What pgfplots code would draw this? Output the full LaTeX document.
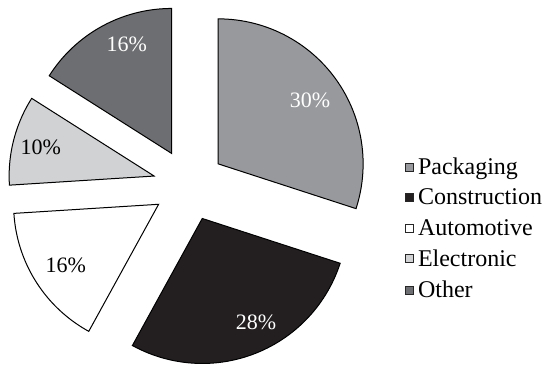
\documentclass[border=0pt]{standalone}
\usepackage{pgfplots}
\pgfplotsset{compat=1.18}
\usepackage{pgfplotstable}
\usepackage{fontspec}
\setmainfont{Liberation Serif}
\definecolor{cPack}{HTML}{98999D}
\definecolor{cCons}{HTML}{231F20}
\definecolor{cAuto}{HTML}{FFFFFF}
\definecolor{cElec}{HTML}{D1D2D4}
\definecolor{cOther}{HTML}{6D6E71}
% data: share in percent, cumulative start in percent
% Packaging 30, Construction 28, Automotive 16, Electronic 10, Other 16
\newcommand\cx{189}
\newcommand\cy{180}
\newcommand\rad{145}
\newcommand\expl{36}
\newcommand\slice[7]{% #1 start, #2 pct, #3 fill, #4 text colour, #5 legend, #6 label angle, #7 label dist
  \addplot[draw=black, line width=1pt, fill=#3, samples at={-1,0,1,...,60}, variable=\t]
    ({\cx + \expl*cos(90-3.6*(#1+#2/2)) + ifthenelse(\t<0, 0, \rad*cos(90-3.6*(#1+#2*\t/60)))},
     {\cy + \expl*sin(90-3.6*(#1+#2/2)) + ifthenelse(\t<0, 0, \rad*sin(90-3.6*(#1+#2*\t/60)))}) -- cycle;
  \addlegendentry{#5}
  \node[text=#4, font=\fontsize{22}{26}\selectfont] at (axis cs:{\cx + \expl*cos(90-3.6*(#1+#2/2)) + #7*cos(#6)},{\cy + \expl*sin(90-3.6*(#1+#2/2)) + #7*sin(#6)}) {#2\%};
}
\begin{document}
\begin{tikzpicture}
\begin{axis}[
  scale only axis, width=552pt, height=365pt,
  xmin=0, xmax=552, ymin=0, ymax=365,
  hide axis, clip=false,
  legend image code/.code={\draw[#1, line width=0.8pt, draw=black!85] (0pt,-4pt) rectangle (8pt,4pt);},
  legend style={draw=none, fill=none, at={(axis cs:405,136.5)}, anchor=west,
    font=\fontsize{24}{28}\selectfont, inner xsep=0pt, row sep=9pt,
    cells={anchor=west}, nodes={inner xsep=4pt}},
]
\slice{0}{30}{cPack}{white}{Packaging}{34.8}{112}
\slice{30}{28}{cCons}{white}{Construction}{-62.6}{117}
\slice{58}{16}{cAuto}{black}{Automotive}{-146.7}{111}
\slice{74}{10}{cElec}{black}{Electronic}{165.6}{117}
\slice{84}{16}{cOther}{white}{Other}{112.4}{118}
\path (rel axis cs:0,0) rectangle (rel axis cs:1,1);
\end{axis}
\end{tikzpicture}
\end{document}
